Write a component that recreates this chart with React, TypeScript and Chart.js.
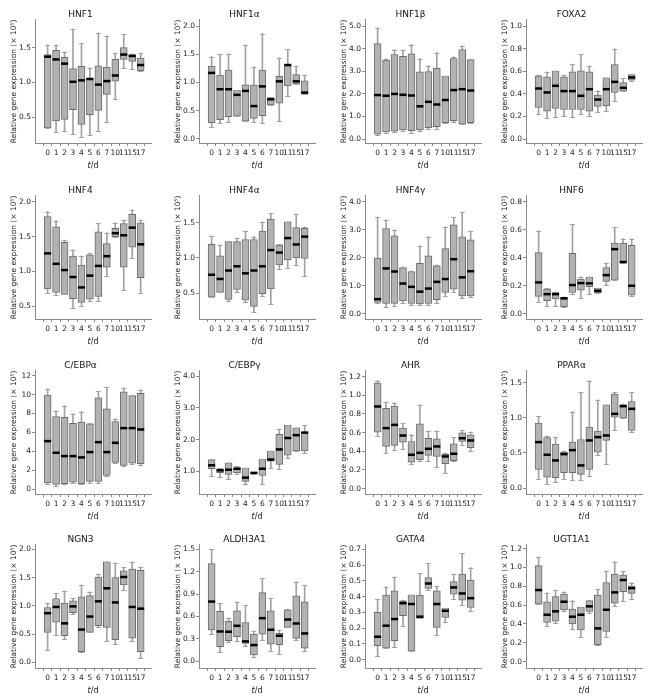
import React, { useEffect, useRef } from "react";
import { Chart, registerables } from "chart.js";

Chart.register(...registerables);

const DAYS = ["0", "1", "2", "3", "4", "5", "6", "7", "10", "11", "15", "17"];

// each box: [lower whisker, Q1, median, Q3, upper whisker]  (× 10^5)
const HNF1 = [
  [0.35, 0.35, 1.37, 1.4, 1.54], [0.29, 0.45, 1.33, 1.46, 1.54], [0.3, 0.47, 1.27, 1.36, 1.44],
  [0.26, 0.61, 1.01, 1.2, 1.77], [0.22, 0.4, 1.03, 1.23, 1.56], [0.25, 0.54, 1.05, 1.06, 1.21],
  [0.3, 0.6, 0.97, 1.24, 1.71], [0.44, 0.83, 1.02, 1.22, 1.67], [0.76, 1.02, 1.1, 1.33, 1.42],
  [1.21, 1.33, 1.4, 1.5, 1.69], [1.19, 1.3, 1.38, 1.4, 1.41], [1.17, 1.17, 1.25, 1.35, 1.42],
];
const HNF1A = [
  [0.2, 0.28, 1.17, 1.29, 1.46], [0.27, 0.34, 0.88, 1.13, 1.5], [0.29, 0.39, 0.88, 1.22, 1.51],
  [0.4, 0.4, 0.78, 0.86, 0.86], [0.31, 0.31, 0.85, 0.96, 1.67], [0.29, 0.36, 0.58, 0.96, 1.28],
  [0.27, 0.41, 0.93, 1.22, 1.87], [0.6, 0.6, 0.7, 0.73, 0.73], [0.32, 0.63, 1.02, 1.11, 1.44],
  [0.76, 0.94, 1.31, 1.32, 1.59], [0.97, 0.97, 1.02, 1.14, 1.29], [0.79, 0.79, 0.82, 1.03, 1.13],
];
const HNF1B = [
  [0.18, 0.21, 1.95, 4.23, 4.93], [0.28, 0.32, 1.92, 3.5, 3.57], [0.31, 0.35, 2.0, 3.75, 3.97],
  [0.35, 0.4, 1.96, 3.67, 3.94], [0.28, 0.37, 1.93, 3.78, 4.19], [0.35, 0.4, 1.45, 2.98, 3.57],
  [0.44, 0.5, 1.65, 2.99, 3.26], [0.44, 0.55, 1.53, 3.13, 3.83], [0.69, 0.72, 1.73, 2.79, 2.79],
  [0.75, 0.81, 2.17, 3.57, 3.64], [0.66, 0.66, 2.21, 3.97, 4.13], [0.69, 0.72, 2.15, 3.52, 3.55],
];
const FOXA2 = [
  [0.218, 0.28, 0.448, 0.56, 0.566], [0.189, 0.248, 0.413, 0.552, 0.596], [0.198, 0.271, 0.472, 0.602, 0.605],
  [0.204, 0.262, 0.425, 0.552, 0.566], [0.198, 0.262, 0.425, 0.596, 0.664], [0.218, 0.262, 0.383, 0.605, 0.75],
  [0.206, 0.248, 0.442, 0.596, 0.649], [0.236, 0.29, 0.35, 0.39, 0.43], [0.248, 0.295, 0.442, 0.543, 0.543],
  [0.34, 0.413, 0.507, 0.66, 0.8], [0.425, 0.425, 0.454, 0.5, 0.538], [0.516, 0.522, 0.546, 0.572, 0.575],
];
const HNF4 = [
  [0.69, 0.75, 1.26, 1.79, 1.86], [0.66, 0.7, 1.11, 1.64, 1.73], [0.67, 0.67, 1.02, 1.42, 1.45],
  [0.48, 0.61, 0.92, 1.22, 1.31], [0.51, 0.555, 0.77, 1.09, 1.22], [0.57, 0.6, 0.94, 1.24, 1.26],
  [0.57, 0.64, 1.08, 1.57, 1.69], [0.94, 1.06, 1.22, 1.4, 1.56], [1.5, 1.5, 1.55, 1.62, 1.7],
  [0.73, 1.06, 1.52, 1.69, 1.74], [1.2, 1.35, 1.63, 1.82, 1.885], [0.69, 0.91, 1.39, 1.7, 1.74],
];
const HNF4A = [
  [0.44, 0.44, 0.76, 1.19, 1.31], [0.51, 0.51, 0.7, 1.03, 1.18], [0.39, 0.41, 0.82, 1.23, 1.23],
  [0.52, 0.55, 0.88, 1.23, 1.28], [0.37, 0.4, 0.78, 1.26, 1.38], [0.23, 0.31, 0.82, 1.26, 1.3],
  [0.46, 0.49, 0.88, 1.38, 1.51], [0.34, 0.56, 1.11, 1.55, 1.63], [0.84, 0.9, 1.075, 1.18, 1.19],
  [0.85, 0.97, 1.28, 1.51, 1.51], [0.9, 1.0, 1.19, 1.43, 1.62], [0.74, 0.99, 1.3, 1.42, 1.44],
];
const HNF4G = [
  [0.38, 0.4, 0.52, 1.99, 3.46], [0.23, 0.37, 1.62, 3.05, 3.36], [0.29, 0.37, 1.51, 2.79, 3.0],
  [0.37, 0.46, 1.08, 1.65, 1.68], [0.31, 0.37, 0.96, 1.51, 1.54], [0.32, 0.35, 0.79, 1.8, 2.43],
  [0.32, 0.37, 0.9, 2.07, 2.76], [0.38, 0.5, 1.14, 1.71, 1.75], [0.62, 0.76, 1.24, 2.33, 3.11],
  [0.79, 0.88, 1.95, 3.18, 3.46], [0.56, 0.64, 1.3, 2.75, 3.64], [0.61, 0.64, 1.52, 2.64, 2.96],
];
const HNF6 = [
  [0.086, 0.124, 0.224, 0.438, 0.593], [0.052, 0.093, 0.14, 0.176, 0.181], [0.052, 0.105, 0.14, 0.152, 0.157],
  [0.05, 0.05, 0.11, 0.117, 0.121], [0.138, 0.152, 0.205, 0.433, 0.64], [0.11, 0.169, 0.219, 0.248, 0.264],
  [0.14, 0.193, 0.217, 0.26, 0.264], [0.148, 0.148, 0.164, 0.181, 0.183], [0.205, 0.231, 0.276, 0.331, 0.362],
  [0.24, 0.24, 0.462, 0.505, 0.62], [0.365, 0.365, 0.37, 0.505, 0.538], [0.124, 0.133, 0.2, 0.49, 0.538],
];
const CEBPA = [
  [0.6, 0.67, 5.09, 9.96, 10.6], [0.32, 0.53, 3.86, 7.68, 8.3], [0.53, 0.6, 3.51, 7.61, 8.84],
  [0.7, 0.77, 3.51, 6.98, 7.96], [0.53, 0.6, 3.37, 7.09, 8.2], [0.67, 0.84, 3.93, 6.91, 6.98],
  [0.67, 0.84, 4.98, 9.65, 10.35], [1.4, 1.47, 3.93, 8.49, 10.77], [2.8, 2.85, 4.91, 7.16, 7.44],
  [2.46, 2.53, 6.46, 10.3, 10.7], [2.7, 2.77, 6.46, 9.9, 9.96], [2.6, 2.7, 6.32, 10.14, 10.5],
];
const CEBPG = [
  [0.84, 1.08, 1.19, 1.37, 1.37], [0.81, 0.96, 1.03, 1.08, 1.1], [0.77, 0.9, 1.05, 1.27, 1.27],
  [0.93, 0.96, 1.08, 1.12, 1.16], [0.59, 0.68, 0.8, 1.1, 1.1], [0.93, 0.94, 0.95, 0.96, 0.97],
  [0.61, 0.87, 1.08, 1.38, 1.38], [1.11, 1.32, 1.37, 1.64, 1.64], [1.08, 1.22, 1.69, 2.17, 2.33],
  [1.42, 1.51, 2.05, 2.45, 2.45], [1.64, 1.64, 2.14, 2.37, 2.37], [1.58, 1.64, 2.22, 2.24, 2.45],
];
const AHR = [
  [0.559, 0.605, 0.88, 1.13, 1.157], [0.384, 0.452, 0.648, 0.86, 0.93], [0.416, 0.463, 0.683, 0.883, 0.918],
  [0.42, 0.498, 0.569, 0.648, 0.7], [0.267, 0.285, 0.363, 0.505, 0.58], [0.292, 0.31, 0.384, 0.694, 0.897],
  [0.3, 0.356, 0.427, 0.54, 0.616], [0.231, 0.345, 0.452, 0.534, 0.616], [0.171, 0.267, 0.345, 0.367, 0.38],
  [0.295, 0.3, 0.374, 0.48, 0.55], [0.463, 0.505, 0.54, 0.598, 0.623], [0.4, 0.438, 0.516, 0.577, 0.605],
];
const PPARA = [
  [0.123, 0.265, 0.654, 0.924, 1.02], [0.062, 0.156, 0.474, 0.72, 0.74], [0.085, 0.147, 0.393, 0.626, 0.725],
  [0.123, 0.218, 0.483, 0.512, 0.526], [0.109, 0.218, 0.54, 0.654, 1.09], [0.109, 0.194, 0.322, 0.692, 1.365],
  [0.17, 0.265, 0.678, 0.867, 1.53], [0.464, 0.512, 0.725, 0.81, 1.256], [0.346, 0.678, 0.749, 1.185, 1.185],
  [0.82, 1.01, 1.057, 1.34, 1.365], [0.995, 0.995, 1.166, 1.185, 1.2], [0.796, 0.82, 1.128, 1.232, 1.365],
];
const NGN3 = [
  [0.21, 0.53, 0.87, 0.97, 1.05], [0.48, 0.71, 0.98, 1.13, 1.22], [0.42, 0.47, 0.69, 1.05, 1.26],
  [0.85, 0.88, 0.99, 1.09, 1.13], [0.19, 0.19, 0.58, 1.16, 1.37], [0.53, 0.53, 0.81, 1.18, 1.25],
  [0.63, 0.65, 1.08, 1.51, 1.56], [0.38, 0.62, 1.31, 1.78, 1.78], [0.32, 0.4, 1.06, 1.5, 1.76],
  [1.28, 1.37, 1.51, 1.62, 1.68], [0.38, 0.43, 0.98, 1.65, 1.78], [0.08, 0.19, 0.95, 1.63, 1.68],
];
const ALDH3A1 = [
  [0.37, 0.42, 0.8, 1.31, 1.5], [0.12, 0.196, 0.4, 0.67, 0.78], [0.254, 0.276, 0.396, 0.534, 0.58],
  [0.267, 0.33, 0.476, 0.676, 0.797], [0.21, 0.24, 0.267, 0.52, 0.75], [0.062, 0.085, 0.218, 0.365, 0.41],
  [0.285, 0.365, 0.578, 0.92, 1.11], [0.134, 0.231, 0.423, 0.676, 0.846], [0.098, 0.222, 0.343, 0.374, 0.418],
  [0.454, 0.454, 0.56, 0.69, 0.7], [0.285, 0.307, 0.507, 0.877, 1.068], [0.142, 0.178, 0.374, 0.797, 1.02],
];
const GATA4 = [
  [0.022, 0.09, 0.146, 0.3, 0.384], [0.073, 0.073, 0.216, 0.41, 0.462], [0.079, 0.121, 0.258, 0.437, 0.526],
  [0.216, 0.279, 0.358, 0.37, 0.378], [0.054, 0.054, 0.353, 0.41, 0.411], [0.262, 0.262, 0.273, 0.41, 0.548],
  [0.443, 0.452, 0.483, 0.521, 0.61], [0.157, 0.205, 0.353, 0.437, 0.464], [0.237, 0.268, 0.31, 0.325, 0.325],
  [0.384, 0.416, 0.458, 0.495, 0.54], [0.346, 0.378, 0.42, 0.542, 0.673], [0.306, 0.331, 0.39, 0.504, 0.584],
];
const UGT1A1 = [
  [0.61, 0.61, 0.76, 1.02, 1.11], [0.38, 0.417, 0.498, 0.636, 0.73], [0.41, 0.43, 0.534, 0.69, 0.76],
  [0.534, 0.548, 0.636, 0.717, 0.742], [0.346, 0.4, 0.477, 0.558, 0.647], [0.258, 0.336, 0.498, 0.576, 0.576],
  [0.512, 0.534, 0.587, 0.647, 0.647], [0.18, 0.18, 0.353, 0.707, 0.77], [0.265, 0.32, 0.551, 0.84, 0.965],
  [0.594, 0.622, 0.735, 0.93, 1.06], [0.647, 0.742, 0.866, 0.92, 0.958], [0.664, 0.724, 0.78, 0.806, 0.84],
];

const TICKS_A = [0.5, 1.0, 1.5];
const TICKS_B = [0.0, 0.5, 1.0, 1.5, 2.0];
const TICKS_C = [0, 1, 2, 3, 4, 5];
const TICKS_D = [0, 0.2, 0.4, 0.6, 0.8, 1.0];
const TICKS_E = [0.5, 1.0, 1.5, 2.0];
const TICKS_F = [0, 1, 2, 3, 4];
const TICKS_G = [0, 0.2, 0.4, 0.6, 0.8];
const TICKS_H = [0, 2, 4, 6, 8, 10, 12];
const TICKS_I = [1, 2, 3, 4];
const TICKS_J = [0, 0.2, 0.4, 0.6, 0.8, 1.0, 1.2];
const TICKS_K = [0, 0.5, 1.0, 1.5];
const TICKS_L = [0, 0.3, 0.6, 0.9, 1.2, 1.5];
const TICKS_M = [0, 0.1, 0.2, 0.3, 0.4, 0.5, 0.6, 0.7];

const PANELS = [
  { title: "HNF1", data: HNF1, ticks: TICKS_A, min: 0.133, max: 1.898, dec: 1 },
  { title: "HNF1α", data: HNF1A, ticks: TICKS_B, min: -0.077, max: 2.115, dec: 1 },
  { title: "HNF1β", data: HNF1B, ticks: TICKS_C, min: -0.177, max: 5.288, dec: 1 },
  { title: "FOXA2", data: FOXA2, ticks: TICKS_D, min: -0.035, max: 1.057, dec: 1 },
  { title: "HNF4", data: HNF4, ticks: TICKS_E, min: 0.316, max: 2.088, dec: 1 },
  { title: "HNF4α", data: HNF4A, ticks: TICKS_A, min: 0.132, max: 1.88, dec: 1 },
  { title: "HNF4γ", data: HNF4G, ticks: TICKS_F, min: -0.19, max: 4.22, dec: 1 },
  { title: "HNF6", data: HNF6, ticks: TICKS_G, min: -0.038, max: 0.844, dec: 1 },
  { title: "C/EBPα", data: CEBPA, ticks: TICKS_H, min: -0.49, max: 12.51, dec: 0 },
  { title: "C/EBPγ", data: CEBPG, ticks: TICKS_I, min: 0.284, max: 4.17, dec: 1 },
  { title: "AHR", data: AHR, ticks: TICKS_J, min: -0.057, max: 1.262, dec: 1 },
  { title: "PPARα", data: PPARA, ticks: TICKS_K, min: -0.085, max: 1.67, dec: 1 },
  { title: "NGN3", data: NGN3, ticks: TICKS_B, min: -0.1, max: 2.08, dec: 1 },
  { title: "ALDH3A1", data: ALDH3A1, ticks: TICKS_L, min: -0.089, max: 1.56, dec: 1 },
  { title: "GATA4", data: GATA4, ticks: TICKS_M, min: -0.052, max: 0.728, dec: 1 },
  { title: "UGT1A1", data: UGT1A1, ticks: TICKS_J, min: -0.067, max: 1.24, dec: 1 },
];

const COL_LEFT = [-1, 163, 329, 490];
const ROW_TOP = [5, 181, 356, 530];
const CW = 162;
const CH = 168;
const AXIS_Y = 138;

const FONT = "'DejaVu Sans', Verdana, sans-serif";
const AXIS = "#8a8a8a";
const BOX_FILL = "#b2b2b2";
const BOX_EDGE = "#6c6c6c";
const WHISKER = "#a2a2a2";

function BoxPanel({ panel, left, top }: any) {
  const ref = useRef<HTMLCanvasElement>(null);
  useEffect(() => {
    const stats: number[][] = panel.data;
    const extras = {
      id: "boxExtras",
      afterDatasetsDraw(chart: any) {
        const { ctx } = chart;
        const xs = chart.scales.x;
        const ys = chart.scales.y;
        ctx.save();
        stats.forEach((s, i) => {
          const px = xs.getPixelForValue(i);
          ctx.strokeStyle = WHISKER;
          ctx.lineWidth = 1;
          [s[0], s[4]].forEach((v) => {
            const py = Math.round(ys.getPixelForValue(v)) + 0.5;
            ctx.beginPath();
            ctx.moveTo(px - 2.5, py);
            ctx.lineTo(px + 2.5, py);
            ctx.stroke();
          });
          const pm = ys.getPixelForValue(s[2]);
          ctx.strokeStyle = "#000";
          ctx.lineWidth = 2.5;
          ctx.beginPath();
          ctx.moveTo(px - 3.5, pm);
          ctx.lineTo(px + 3.5, pm);
          ctx.stroke();
        });
        ctx.restore();
      },
      afterDraw(chart: any) {
        const { ctx, chartArea } = chart;
        const cx = (chartArea.left + chartArea.right) / 2;
        const yy = chartArea.bottom + 23;
        ctx.save();
        ctx.fillStyle = "#222";
        ctx.textBaseline = "middle";
        ctx.font = `italic 8px ${FONT}`;
        const w1 = ctx.measureText("t").width;
        ctx.font = `8px ${FONT}`;
        const w2 = ctx.measureText("/d").width;
        const x0 = cx - (w1 + w2) / 2;
        ctx.font = `italic 8px ${FONT}`;
        ctx.fillText("t", x0, yy);
        ctx.font = `8px ${FONT}`;
        ctx.fillText("/d", x0 + w1, yy);
        ctx.restore();
      },
    };
    const chart = new Chart(ref.current as HTMLCanvasElement, {
      type: "bar",
      data: {
        datasets: [
          {
            label: "box",
            data: stats.map((s, i) => ({ x: i, y: [s[1], s[3]] })),
            backgroundColor: BOX_FILL,
            borderColor: BOX_EDGE,
            borderWidth: 1,
            borderSkipped: false,
            barThickness: 7,
            grouped: false,
            order: 1,
          },
          {
            label: "whisker",
            data: stats.map((s, i) => ({ x: i, y: [s[0], s[4]] })),
            backgroundColor: WHISKER,
            borderWidth: 0,
            barThickness: 1,
            grouped: false,
            order: 2,
          },
        ],
      } as any,
      options: {
        animation: false,
        responsive: false,
        events: [],
        layout: { padding: { left: 11, right: CW - 36 - 116, top: 0, bottom: 0 } },
        plugins: {
          legend: { display: false },
          tooltip: { enabled: false },
          title: {
            display: true,
            text: panel.title,
            color: "#111",
            font: { family: FONT, size: 9, weight: "normal" },
            padding: { top: 4, bottom: 0 },
          },
        },
        scales: {
          x: {
            type: "linear",
            min: -0.92,
            max: 11.65,
            afterBuildTicks: (s: any) => {
              s.ticks = DAYS.map((_, i) => ({ value: i }));
            },
            afterFit: (s: any) => {
              s.height = CH - AXIS_Y;
            },
            ticks: {
              callback: (v: any) => DAYS[Math.round(v)],
              autoSkip: false,
              maxRotation: 0,
              minRotation: 0,
              padding: 3,
              color: "#222",
              font: { family: FONT, size: 7.5 },
            },
            grid: { display: true, drawOnChartArea: false, drawTicks: true, tickLength: 3, color: AXIS },
            border: { display: true, color: AXIS },
          },
          y: {
            min: panel.min,
            max: panel.max,
            afterBuildTicks: (s: any) => {
              s.ticks = panel.ticks.map((v: number) => ({ value: v }));
            },
            afterFit: (s: any) => {
              s.width = 25;
            },
            ticks: {
              callback: (v: any) => Number(v).toFixed(panel.dec),
              padding: 1,
              color: "#222",
              font: { family: FONT, size: 7.5 },
            },
            grid: { display: true, drawOnChartArea: false, drawTicks: true, tickLength: 3, color: AXIS },
            border: { display: true, color: AXIS },
            title: {
              display: true,
              text: "Relative gene expression (× 10⁵)",
              color: "#222",
              font: { family: FONT, size: 7.5 },
              padding: 0,
            },
          },
        },
      } as any,
      plugins: [extras],
    });
    return () => chart.destroy();
  }, [panel]);
  return (
    <canvas
      ref={ref}
      width={CW}
      height={CH}
      style={{ position: "absolute", left, top, width: CW, height: CH }}
    />
  );
}

export default function App() {
  return (
    <div
      style={{
        position: "absolute",
        left: 0,
        top: 0,
        width: 652,
        height: 698,
        background: "#fff",
        overflow: "hidden",
      }}
    >
      {PANELS.map((p, i) => (
        <BoxPanel key={p.title} panel={p} left={COL_LEFT[i % 4]} top={ROW_TOP[Math.floor(i / 4)]} />
      ))}
    </div>
  );
}
